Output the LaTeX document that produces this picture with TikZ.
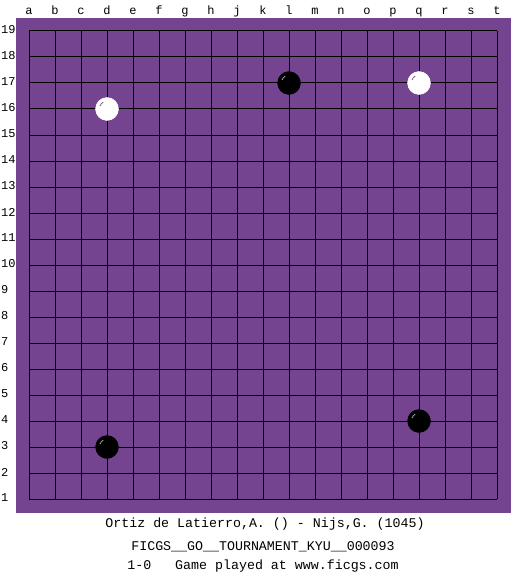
\documentclass[tikz,border=0pt]{standalone}
\usepackage{fontspec}
\setmonofont{Liberation Mono}
\definecolor{board}{RGB}{116,68,144}
\begin{document}
\begin{tikzpicture}[x=1pt,y=-1pt,
  lbl/.style={font=\ttfamily\fontsize{12}{12}\selectfont, inner sep=0pt},
  info/.style={font=\ttfamily\fontsize{13.3}{13.3}\selectfont, inner sep=0pt},
  bstone/.style={circle, fill=black, draw=black, minimum size=23pt, inner sep=0pt},
  wstone/.style={circle, fill=white, draw=white, minimum size=23pt, inner sep=0pt}]
\useasboundingbox (0,0) rectangle (525,575);
\fill[white] (0,0) rectangle (525,575);
\fill[board] (16,18) rectangle (511,513);
\foreach \i in {0,...,18} {
  \draw[line width=1pt] (29+26*\i,31) -- (29+26*\i,499);
  \draw[line width=1pt] (29,31+26*\i) -- (497,31+26*\i);
}
\foreach \l [count=\k from 0] in {a,b,c,d,e,f,g,h,j,k,l,m,n,o,p,q,r,s,t} {
  \node[lbl, anchor=base] (col\l) at (29+26*\k,15) {\l};
}
\foreach \n [count=\k from 0] in {19,18,...,1} {
  \node[lbl, anchor=west] (row\n) at (1,30+26*\k) {\n};
}
\node[wstone] (d16) at (107,109) {};
\node[bstone] (l17) at (289,83) {};
\node[wstone] (q17) at (419,83) {};
\node[bstone] (d3) at (107,447) {};
\node[bstone] (q4) at (419,421) {};
\foreach \s in {l17,d3,q4} {
  \draw[gray!70, line width=0.8pt] ([shift={(-7,-3)}]\s.center) arc[start angle=200, end angle=240, radius=7.5];
}
\foreach \s in {d16,q17} {
  \draw[board!60!gray, line width=0.8pt] ([shift={(-7,-3)}]\s.center) arc[start angle=200, end angle=240, radius=7.5];
}
\node[info] (players) at (265,524) {Ortiz de Latierro,A. () - Nijs,G. (1045)};
\node[info] (event) at (263,547) {FICGS\_\_GO\_\_TOURNAMENT\_KYU\_\_000093};
\node[info] (result) at (263,566) {1-0\ \ \ Game played at www.ficgs.com};
\end{tikzpicture}
\end{document}
